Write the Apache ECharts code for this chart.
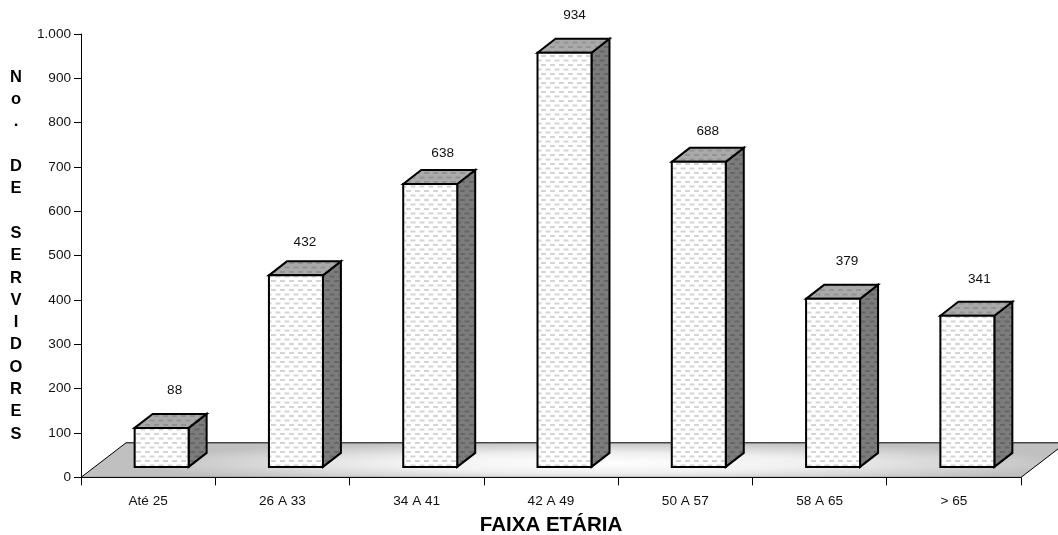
<!DOCTYPE html>
<html><head><meta charset="utf-8">
<style>html,body{margin:0;padding:0;background:#fff}#c{width:1058px;height:535px}</style>
<script src="https://cdn.jsdelivr.net/npm/echarts@6/dist/echarts.min.js"></script>
</head><body><div id="c"></div>
<script>
const categories = ['Até 25','26 A 33','34 A 41','42 A 49','50 A 57','58 A 65','> 65'];
const values = [88,432,638,934,688,379,341];
const yTitleLetters = ['N','o','.','','D','E','','S','E','R','V','I','D','O','R','E','S'];
const xTitle = 'FAIXA ETÁRIA';
const labelNudgeX = [4,0,3.5,1,0,5,3];
const labelNudgeY = [0,5,7,0,7,0,2];

function dots(bg, fg){
  const c=document.createElement('canvas');c.width=9;c.height=9;
  const g=c.getContext('2d');g.fillStyle=bg;g.fillRect(0,0,9,9);
  g.fillStyle=fg;
  g.fillRect(1,1,5,2);
  g.fillRect(5.5,5.5,3.5,2);g.fillRect(0,5.5,1.5,2);
  return {image:c,repeat:'repeat'};
}
function floorFill(){
  const c=document.createElement('canvas');c.width=1100;c.height=535;
  const g=c.getContext('2d');g.fillStyle='#c0c0c0';g.fillRect(0,0,1100,535);
  g.save();g.translate(600,463);g.scale(1,0.046);
  const r=g.createRadialGradient(0,0,0,0,0,470);
  r.addColorStop(0,'#ffffff');r.addColorStop(0.45,'#f0f0f0');r.addColorStop(1,'#c0c0c0');
  g.fillStyle=r;g.fillRect(-700,-700,1400,1400);g.restore();
  return {image:c,repeat:'no-repeat'};
}
const frontFill=dots('#ffffff','#d4d4d4'), topFill=dots('#aaaaaa','#939393'), sideFill=dots('#7c7c7c','#666666'), fl=floorFill();

const chart=echarts.init(document.getElementById('c'),null,{renderer:'canvas'});
chart.setOption({
  animation:false,
  backgroundColor:'#fff',
  grid:{left:81,right:37,top:34,height:443.4,outerBoundsMode:'none'},
  xAxis:{type:'category',data:categories,boundaryGap:true,
    axisLine:{lineStyle:{color:'#000',width:1}},
    axisTick:{show:true,length:8,alignWithLabel:false,interval:0,lineStyle:{color:'#000'}},
    axisLabel:{color:'#111',fontFamily:'Liberation Sans',fontSize:13.6,margin:17,interval:0},
    name:xTitle,nameLocation:'middle',nameGap:37,
    nameTextStyle:{color:'#000',fontFamily:'Liberation Sans',fontWeight:'bold',fontSize:20.5}},
  yAxis:{type:'value',min:0,max:1000,interval:100,
    axisLine:{show:true,lineStyle:{color:'#000',width:1}},
    axisTick:{show:true,length:7,lineStyle:{color:'#000'}},
    splitLine:{show:false},
    axisLabel:{color:'#111',fontFamily:'Liberation Sans',fontSize:13.6,margin:10,
      formatter:v=>v>=1000?String(v).replace(/(\d)(\d{3})$/,'$1.$2'):String(v)},
    name:yTitleLetters.join('\n'),nameLocation:'middle',nameGap:65,nameRotate:0,
    nameTextStyle:{color:'#000',fontFamily:'Liberation Sans',fontWeight:'bold',fontSize:16.5,lineHeight:22.3,align:'center',verticalAlign:'middle'}},
  series:[
  {type:'custom',coordinateSystem:'cartesian2d',clip:false,z:1,data:[0],silent:true,
   renderItem(p,api){
     const a=api.coord([0,0]), band=api.size([1,0])[0];
     const x0=a[0]-band/2, x1=x0+band*categories.length, y=a[1];
     return {type:'polygon',shape:{points:[[x0,y],[x1,y],[x1+45,y-34.6],[x0+45,y-34.6]]},
       style:{fill:fl,stroke:'#000',lineWidth:1}};
   }},
  {type:'custom',coordinateSystem:'cartesian2d',clip:false,z:3,silent:true,
   data:values.map((v,i)=>[i,v]),
   renderItem(p,api){
     const i=api.value(0),v=api.value(1);
     const base=api.coord([i,0]),top=api.coord([i,v]);
     const w=api.size([1,0])[0]*0.402;
     const l=base[0]+13.5-w/2,r=l+w,b=base[1]-10.5,t=top[1]-10.5,dx=18,dy=-14;
     const s={stroke:'#000',lineWidth:2,lineJoin:'miter'};
     return {type:'group',children:[
       {type:'polygon',shape:{points:[[r,t],[r+dx,t+dy],[r+dx,b+dy],[r,b]]},style:{fill:sideFill,...s}},
       {type:'polygon',shape:{points:[[l,t],[l+dx,t+dy],[r+dx,t+dy],[r,t]]},style:{fill:topFill,...s}},
       {type:'rect',shape:{x:l,y:t,width:w,height:b-t},style:{fill:frontFill,...s}},
       {type:'text',style:{text:String(values[i]),x:(l+r)/2+9+labelNudgeX[i],y:t+dy-24+labelNudgeY[i],align:'center',verticalAlign:'middle',
         fill:'#111',font:'13.6px "Liberation Sans"'}}
     ]};
   }}
  ]
});
</script></body></html>
